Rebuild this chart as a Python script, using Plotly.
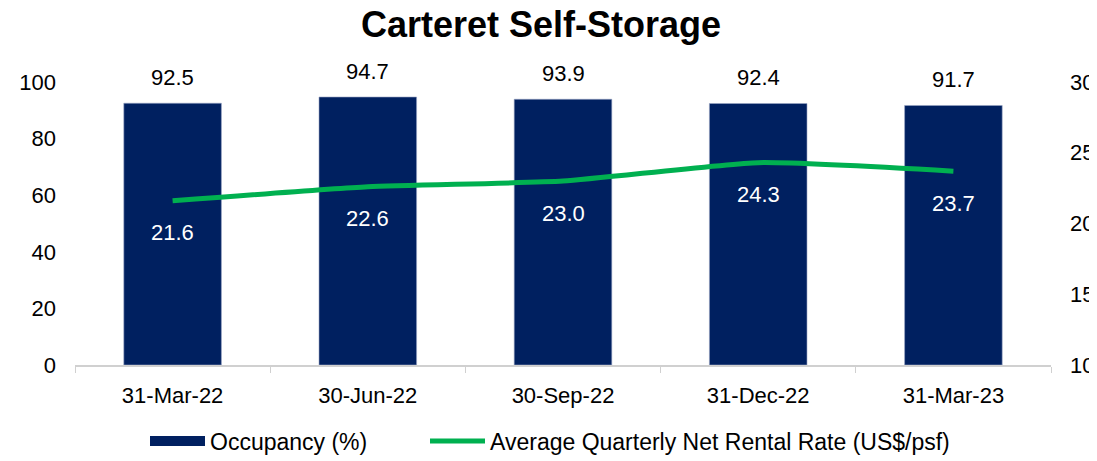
import plotly.graph_objects as go

quarters = ["31-Mar-22", "30-Jun-22", "30-Sep-22", "31-Dec-22", "31-Mar-23"]
occupancy = [92.5, 94.7, 93.9, 92.4, 91.7]
rental_rate = [21.6, 22.6, 23.0, 24.3, 23.7]

navy = "#002060"
green = "#00B050"
font = "Liberation Sans, Arial, sans-serif"

fig = go.Figure()

fig.add_trace(go.Bar(
    x=quarters, y=occupancy, name="Occupancy (%)",
    marker=dict(color=navy, line=dict(color="#9aa6c4", width=0.6)),
    width=0.5, showlegend=False,
))

# legend swatch for the bars: a wide block, like the original
fig.add_trace(go.Scatter(
    x=[None], y=[None], name="Occupancy (%)", mode="lines",
    line=dict(color=navy, width=14), legend="legend",
))

fig.add_trace(go.Scatter(
    x=quarters, y=rental_rate, name="Average Quarterly Net Rental Rate (US$/psf)",
    mode="lines", yaxis="y2", legend="legend2",
    line=dict(color=green, width=5, shape="spline", smoothing=0.5),
))

# labels above bars
for q, v in zip(quarters, occupancy):
    fig.add_annotation(x=q, y=v, text=f"{v:.1f}", showarrow=False,
                       yshift=26, font=dict(size=22, color="black", family=font))

# line labels below the line, in white
for q, v in zip(quarters, rental_rate):
    fig.add_annotation(x=q, y=v, yref="y2", text=f"{v:.1f}", showarrow=False,
                       yshift=-32, font=dict(size=22, color="white", family=font))

leg = dict(orientation="h", xref="container", xanchor="left",
           yref="container", y=1 - 433 / 461, yanchor="middle",
           font=dict(size=23, family=font), itemwidth=55)

fig.update_layout(
    width=1097, height=461,
    margin=dict(l=67, r=54, t=74, b=104, autoexpand=False),
    paper_bgcolor="white", plot_bgcolor="white",
    font=dict(family=font, size=22, color="black"),
    title=dict(text="<b>Carteret Self-Storage</b>", x=533 / 1097, xref="container",
               xanchor="center", y=1 - 16 / 461, yanchor="middle",
               font=dict(size=36, family=font, color="black")),
    xaxis=dict(showline=True, linecolor="#d0d0d0", linewidth=1.5,
               ticks="outside", tickson="boundaries", ticklen=6, tickcolor="#d0d0d0",
               ticklabelstandoff=10, showgrid=False, automargin=False),
    yaxis=dict(range=[0, 100], dtick=20, showgrid=False, zeroline=False,
               ticklabelstandoff=18, automargin=False),
    yaxis2=dict(range=[10, 30], dtick=5, overlaying="y", side="right",
                showgrid=False, zeroline=False, ticklabelstandoff=18, automargin=False),
    legend=dict(leg, x=137 / 1097),
    legend2=dict(leg, x=417 / 1097),
    showlegend=True,
    bargap=0.5,
)

fig.write_html("out.html")
